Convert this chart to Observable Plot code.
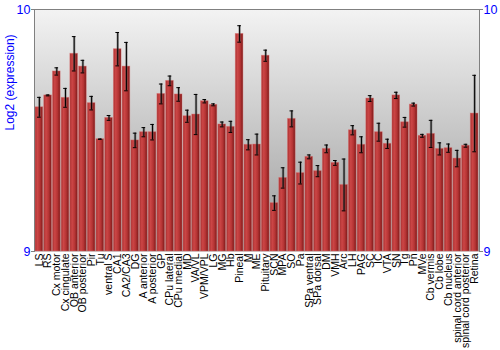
<!DOCTYPE html>
<html>
<head>
<meta charset="utf-8">
<script src="https://cdn.jsdelivr.net/npm/d3@7"></script>
<script src="https://cdn.jsdelivr.net/npm/@observablehq/plot@0.6"></script>
<style>
  html, body { margin: 0; padding: 0; background: white; }
</style>
</head>
<body>
<div id="chart"></div>
<script>
const categories = ["LS","RS","Cx motor","Cx cingulate","OB anterior","OB posterior","Pir","Tu","ventral S","CA1","CA2/CA3","DG","A anterior","A posterior","GP","CPu lateral","CPu medial","MD","VA/VL","VPM/VPL","LG","MG","Hb","Pineal","M","ME","Pituitary","SCN","MPA","SO","Pa","SPa ventral","SPa dorsal","DM","VMH","Arc","LH","PAG","SC","IC","VTA","SN","Tg","Pn","MVe","Cb vermis","Cb lobe","Cb nucleus","spinal cord anterior","spinal cord posterior","Retina"];
const values = [9.596,9.645,9.744,9.635,9.817,9.764,9.613,9.464,9.552,9.836,9.764,9.459,9.493,9.493,9.651,9.705,9.649,9.559,9.566,9.621,9.606,9.525,9.515,9.899,9.441,9.442,9.809,9.200,9.304,9.548,9.324,9.391,9.332,9.424,9.366,9.275,9.501,9.441,9.632,9.493,9.445,9.645,9.534,9.607,9.478,9.486,9.424,9.427,9.384,9.437,9.570];
const errors = [0.041,0.002,0.015,0.039,0.071,0.026,0.028,0.001,0.010,0.069,0.100,0.030,0.019,0.032,0.041,0.020,0.028,0.025,0.083,0.007,0.004,0.010,0.023,0.034,0.021,0.043,0.023,0.030,0.042,0.033,0.045,0.008,0.023,0.016,0.010,0.107,0.019,0.033,0.012,0.037,0.019,0.013,0.020,0.006,0.006,0.056,0.025,0.017,0.034,0.006,0.158];
const yTicks = [9, 10];
const yLabel = "Log2 (expression)";

const data = categories.map((c, i) => ({name: c, value: values[i], err: errors[i]}));

const defs = () => {
  const svg = d3.create("svg:defs");
  const bg = svg.append("linearGradient").attr("id", "bgGrad").attr("x1", 0).attr("y1", 0).attr("x2", 0).attr("y2", 1);
  bg.append("stop").attr("offset", "0%").attr("stop-color", "#f3f3f3");
  bg.append("stop").attr("offset", "100%").attr("stop-color", "#9a9a9a");
  const bar = svg.append("linearGradient").attr("id", "barGrad").attr("x1", 0).attr("y1", 0).attr("x2", 1).attr("y2", 0);
  bar.append("stop").attr("offset", "0%").attr("stop-color", "#a83030");
  bar.append("stop").attr("offset", "30%").attr("stop-color", "#cc4646");
  bar.append("stop").attr("offset", "65%").attr("stop-color", "#b53434");
  bar.append("stop").attr("offset", "100%").attr("stop-color", "#7c1919");
  return svg.node();
};

const chart = Plot.plot({
  width: 500,
  height: 350,
  marginLeft: 34,
  marginRight: 21,
  marginTop: 9,
  marginBottom: 99,
  style: {fontFamily: "'Liberation Sans', Arial, sans-serif", background: "white"},
  x: {domain: categories, padding: 0.12, label: null},
  y: {domain: [9, 10], label: null},
  marks: [
    defs,
    Plot.frame({fill: "url(#bgGrad)", stroke: "none"}),
    Plot.barY(data, {x: "name", y1: 9, y2: "value", fill: "url(#barGrad)", stroke: "#e07070", strokeOpacity: 0.5, strokeWidth: 0.8}),
    Plot.ruleX(data, {x: "name", y1: d => d.value - d.err, y2: d => d.value + d.err, stroke: "#555", strokeOpacity: 0.5, strokeWidth: 2.5}),
    Plot.ruleX(data, {x: "name", y1: d => d.value - d.err, y2: d => d.value + d.err, stroke: "black", strokeWidth: 1}),
    Plot.tickY(data, {x: "name", y: d => d.value + d.err, stroke: "black", insetLeft: 2, insetRight: 2}),
    Plot.tickY(data, {x: "name", y: d => d.value - d.err, stroke: "black", insetLeft: 2, insetRight: 2}),
    Plot.frame({anchor: "top", stroke: "#808080"}),
    Plot.frame({anchor: "left", stroke: "#808080"}),
    Plot.frame({anchor: "right", stroke: "#808080"}),
    Plot.axisY({anchor: "left", ticks: yTicks, tickSize: 3, tickPadding: 1, fontSize: 12.5, color: "blue", stroke: "#808080", tickFormat: d => String(d)}),
    Plot.axisY({anchor: "right", ticks: yTicks, tickSize: 3, tickPadding: 1, fontSize: 12.5, color: "blue", stroke: "#808080", tickFormat: d => String(d)}),
    Plot.axisX({tickRotate: -90, tickSize: 0, tickPadding: 2, fontSize: 10.5, fill: "black", label: null}),
    Plot.text([yLabel], {frameAnchor: "left", dx: -24, rotate: -90, fill: "blue", fontSize: 12})
  ]
});

document.getElementById("chart").appendChild(chart);
</script>
</body>
</html>
